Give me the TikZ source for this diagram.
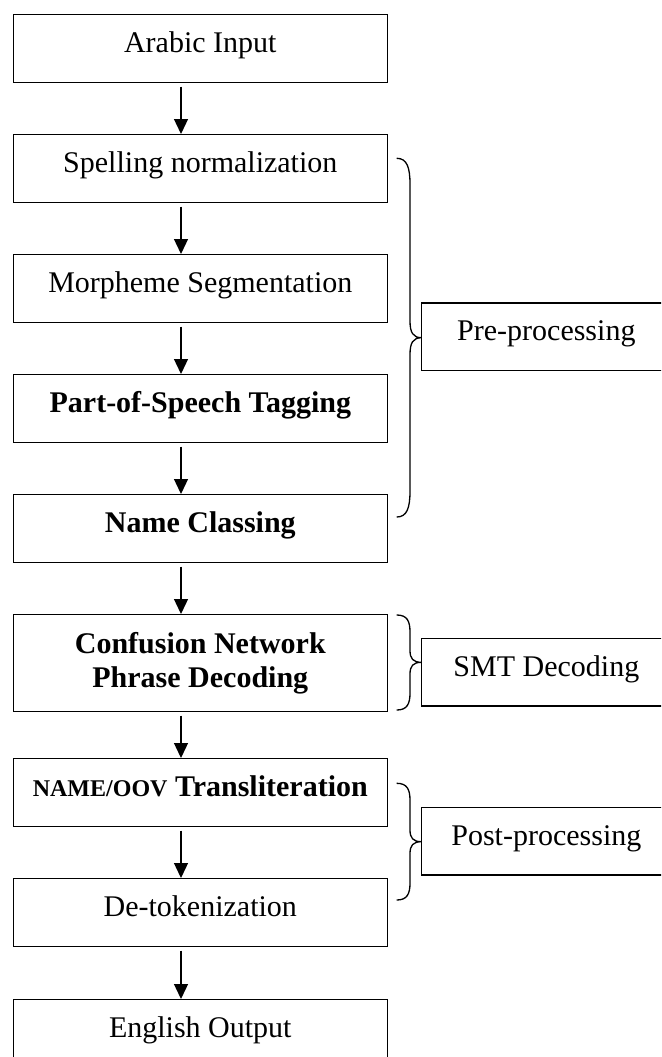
\documentclass[tikz,border=0pt]{standalone}
\usepackage{fontspec}
\setmainfont{Liberation Serif}
\usetikzlibrary{arrows.meta}
\newcommand\drawmybrace[5]{%
  % #1 top y, #2 tip y, #3 bottom y, #4 end curl length, #5 tip curl length
  \draw[bracestyle] (396.7,#1) .. controls (407,#1) and (410,{#1+0.35*#4}) .. (410,{#1+#4})
    -- (410,{#2-#5}) .. controls (410,{#2-0.3*#5}) and (413,#2) .. (421.7,#2)
    .. controls (413,#2) and (410,{#2+0.3*#5}) .. (410,{#2+#5})
    -- (410,{#3-#4}) .. controls (410,{#3-0.35*#4}) and (407,#3) .. (396.7,#3);}
\begin{document}
\begin{tikzpicture}[x=1pt,y=-1pt,
  box/.style={draw, line width=1.3pt, minimum width=374pt, minimum height=67.7pt,
    inner sep=0pt, text height=21pt, text depth=12.7pt,
    font=\fontsize{30}{34}\selectfont, anchor=north},
  bigbox/.style={draw, line width=1.3pt, minimum width=374pt, minimum height=96.7pt,
    inner sep=0pt, align=center, font=\bfseries\fontsize{30}{34}\selectfont, anchor=north},
  side/.style={box, minimum width=250pt, minimum height=67.5pt, anchor=north west},
  arr/.style={line width=1.3pt, -{Triangle[length=15pt,width=14pt]}, shorten <=3.5pt},
  bracestyle/.style={line width=1.3pt}]
\useasboundingbox (0,0) rectangle (661,1057);
\clip (0,0) rectangle (661,1057);

\node[box] (b1) at (200.3,14) {Arabic Input};
\node[box] (b2) at (200.3,134) {Spelling normalization};
\node[box] (b3) at (200.3,254) {Morpheme Segmentation};
\node[box, font=\bfseries\fontsize{30}{34}\selectfont] (b4) at (200.3,374) {Part-of-Speech Tagging};
\node[box, font=\bfseries\fontsize{30}{34}\selectfont] (b5) at (200.3,494) {Name Classing};
\node[bigbox] (b6) at (200.3,614) {Confusion Network\\Phrase Decoding};
\node[box, font=\bfseries\fontsize{30}{34}\selectfont] (b7) at (200.3,758) {{\fontsize{24}{30}\selectfont NAME/OOV} Transliteration};
\node[box] (b8) at (200.3,878) {De-tokenization};
\node[box] (b9) at (200.3,999) {English Output};

\node[side] (p1) at (420.7,302.3) {Pre-processing};
\node[side] (p2) at (420.7,637.7) {SMT Decoding};
\node[side] (p3) at (420.7,806.7) {Post-processing};

\coordinate (ax) at (181,0);
\draw[arr] (b1.south -| ax) -- (b2.north -| ax);
\draw[arr] (b2.south -| ax) -- (b3.north -| ax);
\draw[arr] (b3.south -| ax) -- (b4.north -| ax);
\draw[arr] (b4.south -| ax) -- (b5.north -| ax);
\draw[arr] (b5.south -| ax) -- (b6.north -| ax);
\draw[arr] (b6.south -| ax) -- (b7.north -| ax);
\draw[arr] (b7.south -| ax) -- (b8.north -| ax);
\draw[arr] (b8.south -| ax) -- (b9.north -| ax);

\drawmybrace{158.3}{337.7}{517}{26}{17}
\drawmybrace{615}{662.3}{710}{17}{12}
\drawmybrace{783.3}{841.7}{900}{17}{12}
\end{tikzpicture}
\end{document}
